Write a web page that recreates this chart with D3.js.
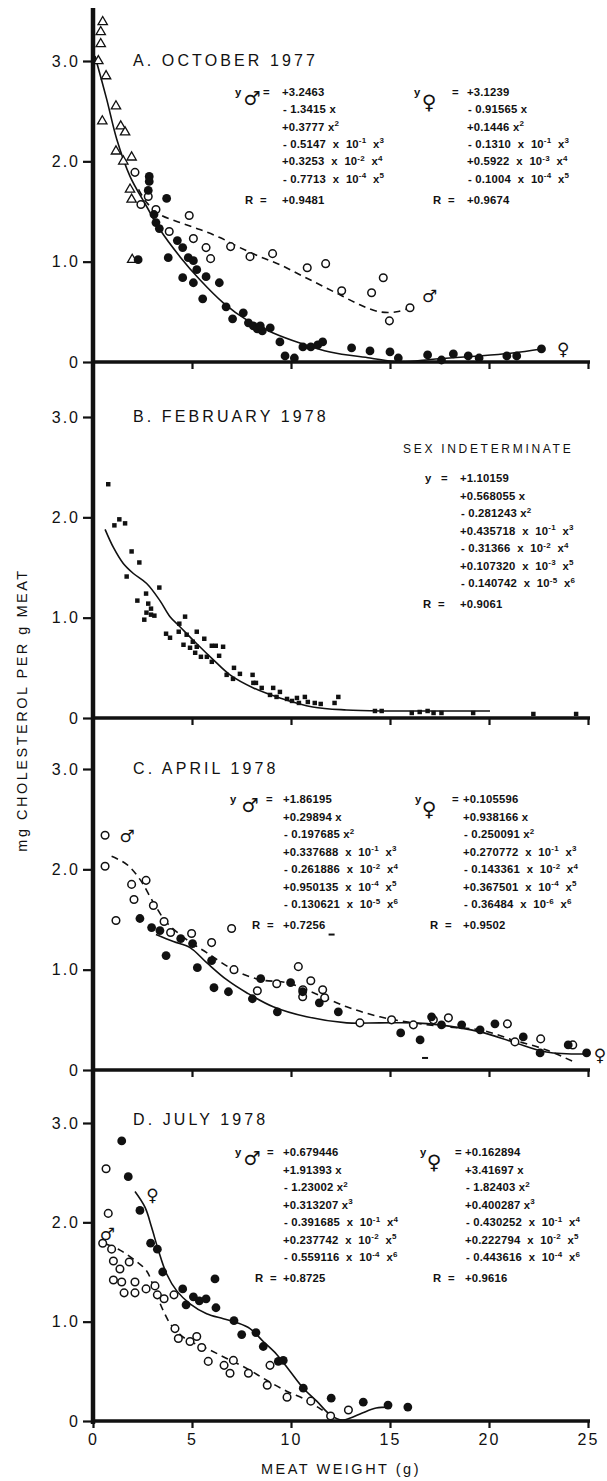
<!DOCTYPE html>
<html lang="en">
<head>
<meta charset="UTF-8">
<title>Cholesterol per g meat vs meat weight</title>
<script src="https://d3js.org/d3.v7.min.js"></script>
<style>
  body { margin: 0; background: #fff; }
  svg { display: block; }
  text { fill: #111; white-space: pre; }
  .title { font-family: 'Liberation Sans', sans-serif; font-size: 16px; letter-spacing: 3.1px; }
  .eq { font-family: 'Liberation Sans', sans-serif; font-size: 11.3px; font-weight: bold; letter-spacing: 0.2px; }
  .sex { font-family: 'DejaVu Sans', sans-serif; }
  .note { font-family: 'Liberation Sans', sans-serif; font-size: 12px; letter-spacing: 2.7px; }
  .tick text { font-family: 'Liberation Sans', sans-serif; font-size: 16px; letter-spacing: 2px; }
  .axlabel { font-family: 'Liberation Sans', sans-serif; font-size: 14.5px; letter-spacing: 2.5px; }
</style>
</head>
<body>
<div id="chart"></div>
<script>
// ---- data: [meat weight g, mg cholesterol per g] ----

// A. October 1977
const octTriangles = [[0.49,3.39],[0.39,3.29],[0.39,3.17],[0.27,3.00],[0.66,2.85],[1.16,2.55],[0.47,2.40],
  [1.40,2.35],[1.62,2.29],[1.16,2.10],[1.53,2.00],[1.95,2.04],[1.87,1.72],[1.95,1.62],[1.98,1.02]];
const octMale = [[2.12,1.89],[2.79,1.65],[2.42,1.57],[3.18,1.52],[3.85,1.30],[4.86,1.46],[5.07,1.23],[5.71,1.14],
  [5.94,1.03],[6.95,1.15],[7.93,1.05],[9.07,1.08],[10.82,0.94],[11.75,0.98],[12.56,0.71],[14.07,0.69],
  [14.66,0.84],[14.97,0.41],[16.01,0.54]];
const octFemale = [[2.84,1.85],[2.84,1.80],[2.79,1.71],[3.72,1.63],[3.08,1.47],[3.18,1.39],[3.35,1.33],[4.26,1.21],
  [4.53,1.14],[4.81,1.04],[5.07,1.01],[3.80,1.04],[5.24,0.92],[4.53,0.84],[5.07,0.79],[5.71,0.85],[6.38,0.79],
  [5.54,0.63],[6.72,0.55],[7.05,0.43],[7.59,0.49],[7.85,0.39],[8.10,0.36],[8.30,0.33],[8.55,0.31],[8.45,0.36],
  [8.95,0.34],[9.44,0.20],[9.70,0.06],[10.17,0.04],[10.60,0.15],[11.00,0.15],[11.35,0.17],[11.60,0.20],
  [13.06,0.14],[13.99,0.11],[15.00,0.10],[15.42,0.04],[16.90,0.07],[17.60,0.02],[18.20,0.08],[18.95,0.06],
  [19.50,0.04],[20.90,0.06],[21.40,0.06],[22.65,0.13],[2.28,1.02]];
const octFemaleCurve = [[0.10,3.05],[0.69,2.62],[1.20,2.22],[1.87,1.85],[2.71,1.55],[3.38,1.32],[4.39,1.05],
  [5.40,0.82],[6.58,0.59],[7.76,0.42],[9.10,0.29],[10.45,0.19],[11.97,0.10],[13.99,0.04],[15.50,0.00],
  [17.30,0.03],[19.50,0.06],[21.20,0.09],[22.65,0.13]];
const octMaleCurve = [[2.30,1.72],[2.71,1.59],[3.38,1.47],[4.39,1.39],[5.40,1.32],[6.41,1.24],[7.42,1.14],
  [8.43,1.05],[9.44,0.97],[10.45,0.87],[11.46,0.77],[12.47,0.67],[13.48,0.57],[14.49,0.50],[15.34,0.50],[16.01,0.54]];

// B. February 1978 (sex indeterminate)
const febAll = [[0.77,2.33],[1.08,1.92],[1.33,1.98],[1.62,1.94],[1.95,1.66],[2.34,1.55],[1.70,1.41],[2.24,1.17],
  [2.68,1.24],[3.35,1.30],[2.79,1.14],[2.93,1.09],[2.59,0.98],[2.93,1.03],[3.10,1.02],[2.70,1.05],[4.65,1.01],
  [4.36,0.94],[3.69,0.84],[3.89,0.80],[4.33,0.86],[4.73,0.83],[5.24,0.86],[5.62,0.79],[5.04,0.76],[4.57,0.73],
  [4.90,0.70],[5.24,0.71],[5.16,0.65],[5.45,0.61],[5.75,0.61],[6.00,0.72],[6.20,0.72],[6.57,0.71],[6.37,0.62],
  [6.00,0.56],[6.75,0.43],[7.12,0.50],[7.42,0.44],[7.07,0.39],[8.06,0.43],[8.23,0.35],[8.10,0.35],[8.52,0.30],
  [9.10,0.30],[9.44,0.26],[8.94,0.23],[9.27,0.21],[9.80,0.19],[10.05,0.17],[10.30,0.20],[10.40,0.15],[10.70,0.21],
  [10.85,0.16],[11.20,0.15],[11.50,0.14],[12.20,0.15],[12.39,0.21],[14.24,0.07],[14.58,0.07],[16.10,0.05],
  [16.50,0.06],[16.90,0.07],[17.20,0.05],[17.60,0.05],[19.20,0.05],[22.24,0.04],[24.40,0.04]];
const febCurve = [[0.61,1.88],[1.03,1.70],[1.53,1.54],[2.04,1.44],[2.71,1.34],[3.38,1.17],[3.89,1.01],[4.39,0.91],
  [5.24,0.74],[6.08,0.58],[6.92,0.43],[8.10,0.30],[9.44,0.20],[11.10,0.11],[12.80,0.08],[14.60,0.07],
  [16.30,0.07],[20.05,0.07]];

// C. April 1978
const aprMale = [[0.61,2.34],[0.61,2.03],[1.16,1.49],[1.95,1.85],[2.07,1.70],[2.68,1.89],[3.05,1.64],[3.59,1.48],
  [3.92,1.37],[4.98,1.36],[5.99,1.27],[7.00,1.41],[7.12,1.00],[8.30,0.79],[9.28,0.86],[10.37,1.03],[10.59,0.73],
  [10.60,0.80],[11.00,0.89],[11.60,0.80],[11.70,0.72],[13.48,0.47],[15.08,0.50],[16.18,0.45],[17.19,0.50],
  [17.95,0.52],[20.93,0.46],[21.31,0.28],[22.61,0.31],[24.23,0.25]];
const aprFemale = [[2.37,1.51],[2.96,1.42],[3.38,1.39],[3.69,1.14],[4.43,1.31],[5.03,1.26],[5.27,1.02],[5.99,1.09],
  [6.11,0.82],[6.84,0.78],[8.05,0.71],[8.47,0.91],[9.31,0.58],[9.98,0.87],[10.59,0.78],[11.43,0.67],[12.39,0.58],
  [15.54,0.37],[16.52,0.30],[17.10,0.53],[17.60,0.45],[18.62,0.45],[19.55,0.40],[20.30,0.46],[21.73,0.33],
  [22.58,0.17],[24.00,0.25],[24.93,0.17]];
const aprStray = [[12.05,1.35],[16.77,0.12]];
const aprMaleCurve = [[0.94,2.13],[1.70,2.05],[2.37,1.90],[3.05,1.67],[3.72,1.47],[4.73,1.30],[5.74,1.17],[7.09,1.00],
  [8.43,0.90],[9.78,0.87],[11.13,0.77],[12.81,0.63],[14.49,0.53],[16.18,0.47],[17.86,0.43],[19.55,0.40],
  [21.20,0.30],[22.90,0.20],[24.40,0.07]];
const aprFemaleCurve = [[3.18,1.35],[4.06,1.28],[4.90,1.22],[5.74,1.07],[6.75,0.90],[7.76,0.77],[9.10,0.63],
  [10.79,0.53],[12.81,0.47],[14.49,0.47],[16.18,0.47],[17.50,0.45],[19.55,0.38],[21.20,0.28],[22.90,0.18],[24.93,0.16]];

// D. July 1978
const julMale = [[0.66,2.54],[0.77,2.09],[0.49,1.79],[0.94,1.73],[1.03,1.61],[1.36,1.53],[1.83,1.60],[1.03,1.42],
  [1.45,1.40],[2.12,1.40],[1.57,1.29],[2.12,1.29],[2.68,1.33],[3.13,1.36],[3.25,1.27],[3.59,1.23],[4.09,1.27],
  [4.14,0.93],[4.31,0.83],[4.90,0.80],[5.24,0.85],[5.49,0.74],[5.82,0.60],[6.62,0.56],[6.92,0.48],[7.09,0.61],
  [7.85,0.48],[8.80,0.36],[8.94,0.56],[9.80,0.24],[11.00,0.20],[12.00,0.05],[12.90,0.11]];
const julFemale = [[1.45,2.82],[1.78,2.46],[2.37,2.12],[2.91,1.79],[3.25,1.73],[3.52,1.50],[4.53,1.33],[5.07,1.25],
  [4.70,1.17],[5.37,1.21],[5.71,1.23],[6.16,1.43],[6.21,1.14],[7.12,1.01],[7.51,0.87],[8.23,0.89],[8.60,0.75],
  [9.36,0.60],[9.61,0.61],[10.62,0.33],[12.03,0.23],[13.65,0.19],[14.90,0.16],[15.90,0.14]];
const julFemaleCurve = [[2.12,2.31],[2.63,2.15],[2.96,1.95],[3.30,1.72],[3.72,1.48],[4.23,1.31],[4.90,1.18],
  [5.74,1.08],[6.58,1.03],[7.26,0.99],[7.93,0.93],[8.60,0.80],[9.28,0.67],[9.95,0.50],[10.62,0.33],[11.30,0.20],
  [12.00,0.06],[12.60,0.01],[13.00,0.03],[13.60,0.08],[14.30,0.13],[14.95,0.14]];
const julMaleCurve = [[0.69,1.78],[1.36,1.72],[2.04,1.63],[2.71,1.51],[3.13,1.31],[3.55,1.11],[3.97,0.96],
  [4.73,0.82],[5.74,0.73],[6.75,0.63],[7.76,0.53],[8.77,0.41],[9.78,0.30],[10.79,0.21],[11.50,0.12],[12.10,0.05]];

// axes
const xTicks = [0, 5, 10, 15, 20, 25];
const yTicks = [0, 1, 2, 3];

// regression equations printed on the figure
const octMaleEq = ['+3.2463', '- 1.3415 x', '+0.3777 x^{2}', '- 0.5147 x 10^{-1} x^{3}', '+0.3253 x 10^{-2} x^{4}', '- 0.7713 x 10^{-4} x^{5}'];
const octFemaleEq = ['+3.1239', '- 0.91565 x', '+0.1446 x^{2}', '- 0.1310 x 10^{-1} x^{3}', '+0.5922 x 10^{-3} x^{4}', '- 0.1004 x 10^{-4} x^{5}'];
const febEq = ['+1.10159', '+0.568055 x', '- 0.281243 x^{2}', '+0.435718 x 10^{-1} x^{3}', '- 0.31366 x 10^{-2} x^{4}', '+0.107320 x 10^{-3} x^{5}', '- 0.140742 x 10^{-5} x^{6}'];
const aprMaleEq = ['+1.86195', '+0.29894 x', '- 0.197685 x^{2}', '+0.337688 x 10^{-1} x^{3}', '- 0.261886 x 10^{-2} x^{4}', '+0.950135 x 10^{-4} x^{5}', '- 0.130621 x 10^{-5} x^{6}'];
const aprFemaleEq = ['+0.105596', '+0.938166 x', '- 0.250091 x^{2}', '+0.270772 x 10^{-1} x^{3}', '- 0.143361 x 10^{-2} x^{4}', '+0.367501 x 10^{-4} x^{5}', '- 0.36484 x 10^{-6} x^{6}'];
const julMaleEq = ['+0.679446', '+1.91393 x', '- 1.23002 x^{2}', '+0.313207 x^{3}', '- 0.391685 x 10^{-1} x^{4}', '+0.237742 x 10^{-2} x^{5}', '- 0.559116 x 10^{-4} x^{6}'];
const julFemaleEq = ['+0.162894', '+3.41697 x', '- 1.82403 x^{2}', '+0.400287 x^{3}', '- 0.430252 x 10^{-1} x^{4}', '+0.222794 x 10^{-2} x^{5}', '- 0.443616 x 10^{-4} x^{6}'];
const rValues = { octM: '+0.9481', octF: '+0.9674', feb: '+0.9061', aprM: '+0.7256', aprF: '+0.9502', julM: '+0.8725', julF: '+0.9616' };

// ---- layout ----
const width = 607, height = 1481;
const xLeft = 93, xRight = 588;
const base = [362, 718, 1070, 1421];   // y pixel of 0 in each panel
const top3 = [61, 417, 769, 1123];     // y pixel of 3.0 in each panel

const MALE = '\u2642', FEMALE = '\u2640';

const panels = [
  { title: 'A. OCTOBER 1977',
    sets: [{ pts: octTriangles, mark: 'tri' }, { pts: octMale, mark: 'open' }, { pts: octFemale, mark: 'filled' }],
    curves: [{ pts: octFemaleCurve, dash: false }, { pts: octMaleCurve, dash: true }],
    eqs: [{ sex: MALE, lines: octMaleEq, r: rValues.octM, yx: 235, sx: 252, ex: 263, vx: 282, rx: 245, off: 266, gap: 17.3 },
          { sex: FEMALE, lines: octFemaleEq, r: rValues.octF, yx: 414, sx: 429, ex: 452, vx: 467, rx: 433, off: 266, gap: 17.3 }],
    marks: [{ s: MALE, x: 17.0, y: 0.66 }, { s: FEMALE, x: 23.75, y: 0.13 }] },
  { title: 'B. FEBRUARY 1978',
    sets: [{ pts: febAll, mark: 'square' }],
    curves: [{ pts: febCurve, dash: false }],
    eqs: [{ sex: null, lines: febEq, r: rValues.feb, yx: 425, ex: 441, vx: 460, rx: 423, off: 236, gap: 17.5 }],
    note: 'SEX INDETERMINATE',
    marks: [] },
  { title: 'C. APRIL 1978',
    sets: [{ pts: aprMale, mark: 'open' }, { pts: aprFemale, mark: 'filled' }, { pts: aprStray, mark: 'dash' }],
    curves: [{ pts: aprFemaleCurve, dash: false }, { pts: aprMaleCurve, dash: true }],
    eqs: [{ sex: MALE, lines: aprMaleEq, r: rValues.aprM, yx: 230, sx: 250, ex: 266, vx: 283, rx: 252, off: 267, gap: 17.5 },
          { sex: FEMALE, lines: aprFemaleEq, r: rValues.aprF, yx: 415, sx: 429, ex: 452, vx: 463, rx: 430, off: 267, gap: 17.5 }],
    marks: [{ s: MALE, x: 1.72, y: 2.33 }, { s: FEMALE, x: 25.6, y: 0.15 }] },
  { title: 'D. JULY 1978',
    sets: [{ pts: julMale, mark: 'open' }, { pts: julFemale, mark: 'filled' }],
    curves: [{ pts: julFemaleCurve, dash: false }, { pts: julMaleCurve, dash: true }],
    eqs: [{ sex: MALE, lines: julMaleEq, r: rValues.julM, yx: 235, sx: 252, ex: 267, vx: 283, rx: 255, off: 265, gap: 17.5 },
          { sex: FEMALE, lines: julFemaleEq, r: rValues.julF, yx: 420, sx: 434, ex: 455, vx: 465, rx: 433, off: 265, gap: 17.5 }],
    marks: [{ s: FEMALE, x: 3.0, y: 2.28 }, { s: MALE, x: 0.72, y: 1.88 }] }
];

const svg = d3.select('#chart').append('svg')
  .attr('width', width)
  .attr('height', height);

const x = d3.scaleLinear().domain([0, 25]).range([xLeft, xRight]);

// text with ^{...} superscripts, printed with the wide spacing of the original
function richText(sel, str) {
  const spaced = str.replace(/ x 10/g, '  x  10').replace(/\} x/g, '}  x');
  const parts = spaced.split(/\^\{([^}]*)\}/);
  let raised = false;
  parts.forEach((p, i) => {
    if (!p) return;
    const t = sel.append('tspan').text(p);
    if (i % 2 === 1) {
      t.attr('font-size', 8);
      if (!raised) t.attr('dy', -4.5);
      raised = true;
    } else if (raised) {
      t.attr('dy', 4.5);
      raised = false;
    }
  });
}

const line = d3.line().curve(d3.curveCatmullRom.alpha(0.5));

panels.forEach((p, i) => {
  const b = base[i];
  const y = d3.scaleLinear().domain([0, 3]).range([b, top3[i]]);
  const g = svg.append('g');

  // y axis ticks and labels
  g.append('g')
    .attr('transform', `translate(${xLeft},0)`)
    .call(d3.axisLeft(y).tickValues(yTicks).tickSize(10).tickPadding(3)
      .tickFormat(d => d === 0 ? '0' : d3.format('.1f')(d)))
    .call(a => a.select('.domain').remove())
    .call(a => a.selectAll('.tick line').attr('stroke', '#111').attr('stroke-width', 2.2));

  // x axis (labels only on the bottom panel)
  const last = i === panels.length - 1;
  g.append('g')
    .attr('transform', `translate(0,${b})`)
    .call(d3.axisBottom(x).tickValues(last ? xTicks : xTicks.slice(1)).tickSize(7).tickPadding(6)
      .tickFormat(last ? d3.format('d') : ''))
    .call(a => a.select('.domain').remove())
    .call(a => a.selectAll('.tick line').attr('stroke', '#111').attr('stroke-width', 2.2));

  g.append('line')
    .attr('x1', xLeft - 2).attr('x2', xRight + 2)
    .attr('y1', b).attr('y2', b)
    .attr('stroke', '#111').attr('stroke-width', 3.6);

  // fitted curves
  p.curves.forEach(c => {
    g.append('path')
      .attr('d', line(c.pts.map(d => [x(d[0]), y(d[1])])))
      .attr('fill', 'none')
      .attr('stroke', '#111')
      .attr('stroke-width', 1.6)
      .attr('stroke-dasharray', c.dash ? '7,5' : null);
  });

  // data points
  p.sets.forEach(s => {
    const sel = g.append('g').selectAll('.pt').data(s.pts).enter();
    if (s.mark === 'open' || s.mark === 'filled') {
      sel.append('circle')
        .attr('cx', d => x(d[0])).attr('cy', d => y(d[1]))
        .attr('r', s.mark === 'open' ? 3.8 : 4.4)
        .attr('fill', s.mark === 'open' ? '#fff' : '#111')
        .attr('stroke', '#111')
        .attr('stroke-width', s.mark === 'open' ? 1.5 : 0);
    } else if (s.mark === 'tri' || s.mark === 'square') {
      const sym = d3.symbol(s.mark === 'tri' ? d3.symbolTriangle : d3.symbolSquare, s.mark === 'tri' ? 38 : 20);
      sel.append('path')
        .attr('d', sym)
        .attr('transform', d => `translate(${x(d[0])},${y(d[1])})`)
        .attr('fill', s.mark === 'tri' ? '#fff' : '#111')
        .attr('stroke', '#111')
        .attr('stroke-width', s.mark === 'tri' ? 1.3 : 0);
    } else {
      sel.append('line')
        .attr('x1', d => x(d[0]) - 3).attr('x2', d => x(d[0]) + 3)
        .attr('y1', d => y(d[1])).attr('y2', d => y(d[1]))
        .attr('stroke', '#111').attr('stroke-width', 2);
    }
  });

  // sex symbols beside the curves
  p.marks.forEach(m => {
    g.append('text').attr('class', 'sex')
      .attr('x', x(m.x)).attr('y', y(m.y))
      .attr('text-anchor', 'middle').attr('dominant-baseline', 'central')
      .attr('font-size', 17)
      .text(m.s);
  });

  // panel title
  g.append('text').attr('class', 'title')
    .attr('x', 133).attr('y', b - 296)
    .text(p.title);

  if (p.note) {
    g.append('text').attr('class', 'note')
      .attr('x', 403).attr('y', b - 265)
      .text(p.note);
  }

  // equations
  p.eqs.forEach(e => {
    const y0 = b - e.off;
    g.append('text').attr('class', 'eq').attr('x', e.yx).attr('y', y0).attr('font-size', 12).text('y');
    if (e.sex) {
      g.append('text').attr('class', 'sex')
        .attr('x', e.sx).attr('y', y0 + (e.sex === MALE ? 9 : 13))
        .attr('text-anchor', 'middle')
        .attr('font-size', e.sex === MALE ? 19 : 20)
        .text(e.sex);
    }
    g.append('text').attr('class', 'eq').attr('x', e.ex).attr('y', y0).text('=');
    e.lines.forEach((ln, k) => {
      const t = g.append('text').attr('class', 'eq')
        .attr('x', e.vx + (ln.startsWith('-') ? 1 : 0))
        .attr('y', y0 + k * e.gap);
      richText(t, ln);
    });
    const ry = y0 + (e.lines.length - 1) * e.gap + 21;
    g.append('text').attr('class', 'eq').attr('x', e.rx).attr('y', ry).text('R  =');
    g.append('text').attr('class', 'eq').attr('x', e.vx).attr('y', ry).text(e.r);
  });
});

// continuous y axis line down the left side
svg.append('line')
  .attr('x1', xLeft).attr('x2', xLeft)
  .attr('y1', 8).attr('y2', base[3] + 3)
  .attr('stroke', '#111').attr('stroke-width', 4.5);

// axis titles
svg.append('text').attr('class', 'axlabel')
  .attr('transform', 'translate(27,710) rotate(-90)')
  .attr('text-anchor', 'middle')
  .text('mg CHOLESTEROL PER g MEAT');

svg.append('text').attr('class', 'axlabel')
  .attr('x', 341).attr('y', 1474)
  .attr('text-anchor', 'middle')
  .attr('font-size', 15)
  .text('MEAT WEIGHT (g)');
</script>
</body>
</html>
